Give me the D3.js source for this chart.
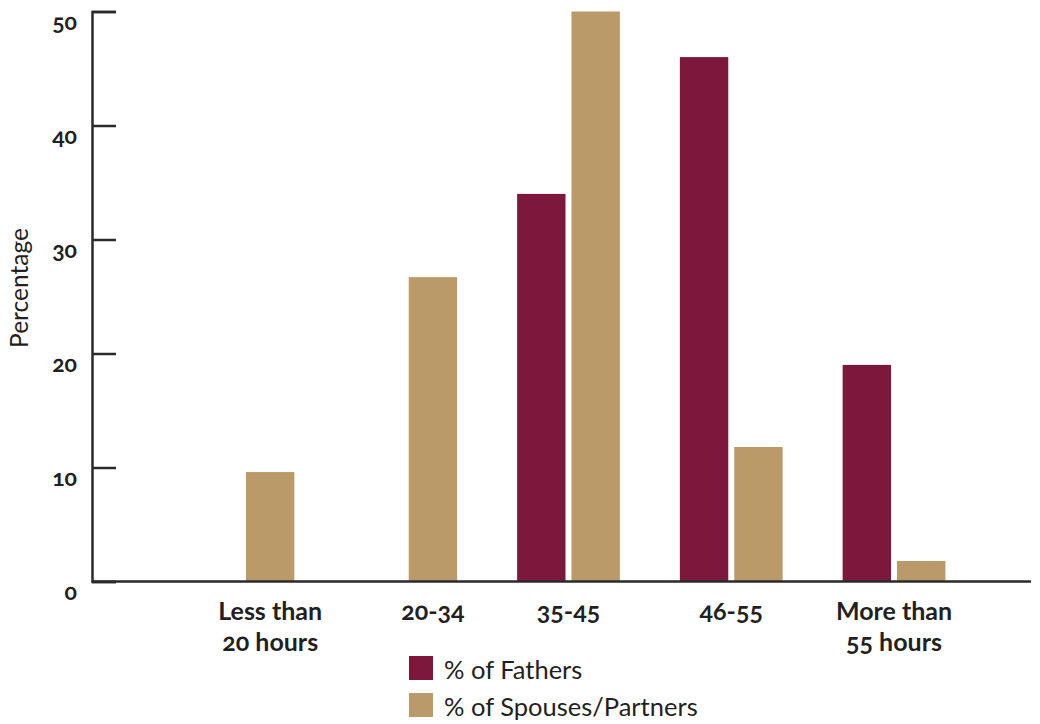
<!DOCTYPE html>
<html>
<head>
    <meta charset="utf-8">
    <title>Hours worked</title>
    <script src="https://d3js.org/d3.v7.min.js"></script>
    <style>
        body { margin: 0; background: #fff; }
        text { font-family: Lato, "Open Sans", sans-serif; fill: #231f20; font-feature-settings: "onum"; }
    </style>
</head>
<body>
    <script>
        var categories = ["Less than\n20 hours", "20-34", "35-45", "46-55", "More than\n55 hours"];
        var fathers = [0, 0, 34, 46, 19];
        var spouses = [9.6, 26.7, 50, 11.8, 1.8];
        var yTicks = [0, 10, 20, 30, 40, 50];
        var seriesNames = ["% of Fathers", "% of Spouses/Partners"];
        var colors = ["#7b183c", "#bb9a69"];

        var width = 1040, height = 724;
        var axisX = 92, baseY = 581.5, topY = 11.5, rightX = 1031;

        var svg = d3.select("body").append("svg").attr("width", width).attr("height", height);

        var x0 = d3.scaleBand().domain(categories).range([161.6, 975.4]).padding(0);
        var x1 = d3.scaleBand().domain([0, 1]).range([30, x0.bandwidth() - 30]).paddingInner(0.11);
        var y = d3.scaleLinear().domain([0, 50]).range([baseY, topY]);

        // bars
        var groups = svg.append("g").selectAll("g")
            .data(categories)
            .enter().append("g")
            .attr("transform", function (d) { return "translate(" + x0(d) + ",0)"; });

        groups.selectAll("rect")
            .data(function (d, i) { return [fathers[i], spouses[i]]; })
            .enter().append("rect")
            .attr("x", function (d, j) { return x1(j); })
            .attr("width", x1.bandwidth())
            .attr("y", function (d) { return y(d); })
            .attr("height", function (d) { return baseY - y(d); })
            .attr("fill", function (d, j) { return colors[j]; });

        // x axis line
        svg.append("line")
            .attr("x1", axisX).attr("x2", rightX)
            .attr("y1", baseY).attr("y2", baseY)
            .attr("stroke", "#2b2a2b").attr("stroke-width", 2.5);

        // y axis
        var yAxis = d3.axisRight(y).tickValues(yTicks).tickSize(24).tickFormat("");
        var ya = svg.append("g").attr("transform", "translate(" + axisX + ",0)").call(yAxis);
        ya.select(".domain").attr("stroke", "#2b2a2b").attr("stroke-width", 2.5);
        ya.selectAll(".tick line").attr("stroke", "#2b2a2b").attr("stroke-width", 2.5);

        svg.append("g").selectAll("text")
            .data(yTicks)
            .enter().append("text")
            .attr("x", 77)
            .attr("y", function (d) { return y(d) + 18; })
            .attr("text-anchor", "end")
            .attr("font-size", "23px")
            .attr("font-weight", "bold")
            .text(function (d) { return d; });

        svg.append("text")
            .attr("transform", "translate(28,288) rotate(-90)")
            .attr("text-anchor", "middle")
            .attr("font-size", "24.5px")
            .text("Percentage");

        // category labels, centred on the visible bars
        svg.append("g").selectAll("text")
            .data(categories)
            .enter().append("text")
            .attr("text-anchor", "middle")
            .attr("font-size", "25px")
            .attr("font-weight", "bold")
            .attr("x", function (d, i) {
                var left = fathers[i] > 0 ? x0(d) + x1(0) : x0(d) + x1(1);
                var right = spouses[i] > 0 ? x0(d) + x1(1) + x1.bandwidth() : x0(d) + x1(0) + x1.bandwidth();
                return (left + right) / 2;
            })
            .attr("y", 620)
            .selectAll("tspan")
            .data(function (d) { return d.split("\n"); })
            .enter().append("tspan")
            .attr("x", function () { return d3.select(this.parentNode).attr("x"); })
            .attr("dy", function (d, k) { return k ? 31 : 0; })
            .text(function (d) { return d; });

        // legend
        var legend = svg.append("g").selectAll("g")
            .data(seriesNames)
            .enter().append("g")
            .attr("transform", function (d, i) { return "translate(409," + (656 + i * 37) + ")"; });
        legend.append("rect").attr("width", 24).attr("height", 24)
            .attr("fill", function (d, i) { return colors[i]; });
        legend.append("text").attr("x", 35).attr("y", 23)
            .attr("font-size", "25.5px")
            .text(function (d) { return d; });
    </script>
</body>
</html>
